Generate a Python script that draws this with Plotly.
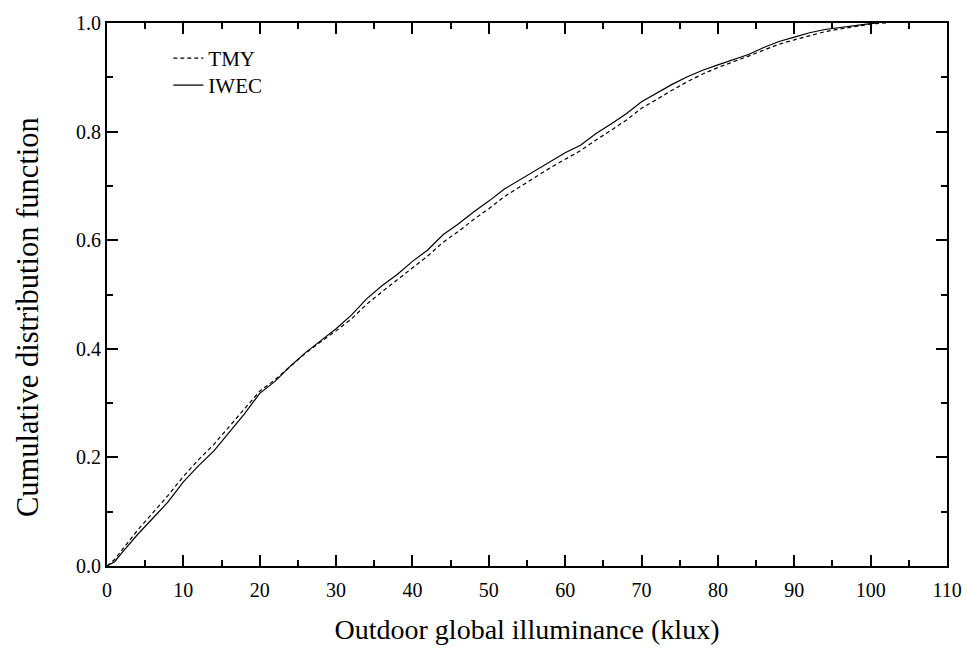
import plotly.graph_objects as go

# Outdoor global illuminance (klux)
illum_tmy = [0, 1, 2, 4, 6, 8, 10, 12, 14, 16, 18, 20, 22, 24, 26, 28, 30, 32, 34, 36,
             38, 40, 42, 44, 46, 48, 50, 52, 54, 56, 58, 60, 62, 64, 66, 68, 70, 72, 74,
             76, 78, 80, 82, 84, 86, 88, 90, 92, 94, 96, 98, 100, 102]
cdf_tmy = [0.000, 0.012, 0.030, 0.066, 0.098, 0.130, 0.165, 0.196, 0.224, 0.256, 0.290,
           0.322, 0.343, 0.368, 0.392, 0.413, 0.433, 0.455, 0.482, 0.505, 0.527, 0.550,
           0.571, 0.596, 0.616, 0.638, 0.658, 0.680, 0.698, 0.716, 0.733, 0.749, 0.765,
           0.784, 0.802, 0.821, 0.843, 0.860, 0.876, 0.892, 0.906, 0.918, 0.928, 0.939,
           0.950, 0.961, 0.969, 0.977, 0.984, 0.989, 0.994, 0.998, 1.000]

illum_iwec = [0, 1, 2, 4, 6, 8, 10, 12, 14, 16, 18, 20, 22, 24, 26, 28, 30, 32, 34, 36,
              38, 40, 42, 44, 46, 48, 50, 52, 54, 56, 58, 60, 62, 64, 66, 68, 70, 72, 74,
              76, 78, 80, 82, 84, 86, 88, 90, 92, 94, 96, 98, 100, 101]
cdf_iwec = [0.000, 0.008, 0.025, 0.058, 0.088, 0.118, 0.155, 0.185, 0.212, 0.245, 0.280,
            0.318, 0.340, 0.368, 0.393, 0.415, 0.437, 0.462, 0.492, 0.516, 0.537, 0.561,
            0.582, 0.610, 0.630, 0.652, 0.672, 0.694, 0.711, 0.728, 0.745, 0.761, 0.775,
            0.796, 0.814, 0.833, 0.855, 0.871, 0.887, 0.901, 0.913, 0.923, 0.932, 0.942,
            0.955, 0.966, 0.974, 0.982, 0.988, 0.992, 0.996, 0.999, 1.000]

FONT = "Liberation Serif, Times New Roman, serif"

fig = go.Figure()
fig.add_trace(go.Scatter(x=illum_tmy, y=cdf_tmy, mode="lines", name="TMY",
                         legend="legend",
                         line=dict(color="black", width=1.2, dash="4px,3px")))
fig.add_trace(go.Scatter(x=illum_iwec, y=cdf_iwec, mode="lines", name="IWEC",
                         legend="legend2",
                         line=dict(color="black", width=1.2)))

axis_common = dict(
    showline=True, linecolor="black", linewidth=2, mirror="allticks",
    ticks="inside", ticklen=11, tickwidth=1.5, tickcolor="black",
    showgrid=False, zeroline=False, automargin=False,
    tickfont=dict(family=FONT, size=20, color="black"),
)

fig.update_xaxes(
    range=[0, 110], dtick=10, tick0=0, ticklabelstandoff=5,
    minor=dict(dtick=5, ticks="inside", ticklen=6, tickwidth=1.5, tickcolor="black"),
    title=dict(text="Outdoor global illuminance (klux)",
               font=dict(family=FONT, size=28, color="black"), standoff=19),
    **axis_common,
)
fig.update_yaxes(
    range=[0, 1.0], dtick=0.2, tick0=0, tickformat=".1f",
    minor=dict(dtick=0.1, ticks="inside", ticklen=6, tickwidth=1.5, tickcolor="black"),
    **axis_common,
)

# y-axis title placed as a rotated label left of the tick labels
fig.add_annotation(
    text="Cumulative distribution function", textangle=-90,
    xref="paper", yref="paper", x=-0.094, y=0.4586,
    xanchor="center", yanchor="middle", showarrow=False,
    font=dict(family=FONT, size=30.5, color="black"),
)

legend_style = dict(xanchor="left", yanchor="top", bgcolor="rgba(0,0,0,0)",
                    borderwidth=0, itemwidth=30,
                    font=dict(family=FONT, size=21, color="black"))

fig.update_layout(
    width=967, height=648,
    margin=dict(l=107, r=20, t=23, b=82),
    paper_bgcolor="white", plot_bgcolor="white",
    showlegend=True,
    legend=dict(x=0.073, y=0.9724, **legend_style),
    legend2=dict(x=0.073, y=0.9227, **legend_style),
)

fig.write_html("out.html")
